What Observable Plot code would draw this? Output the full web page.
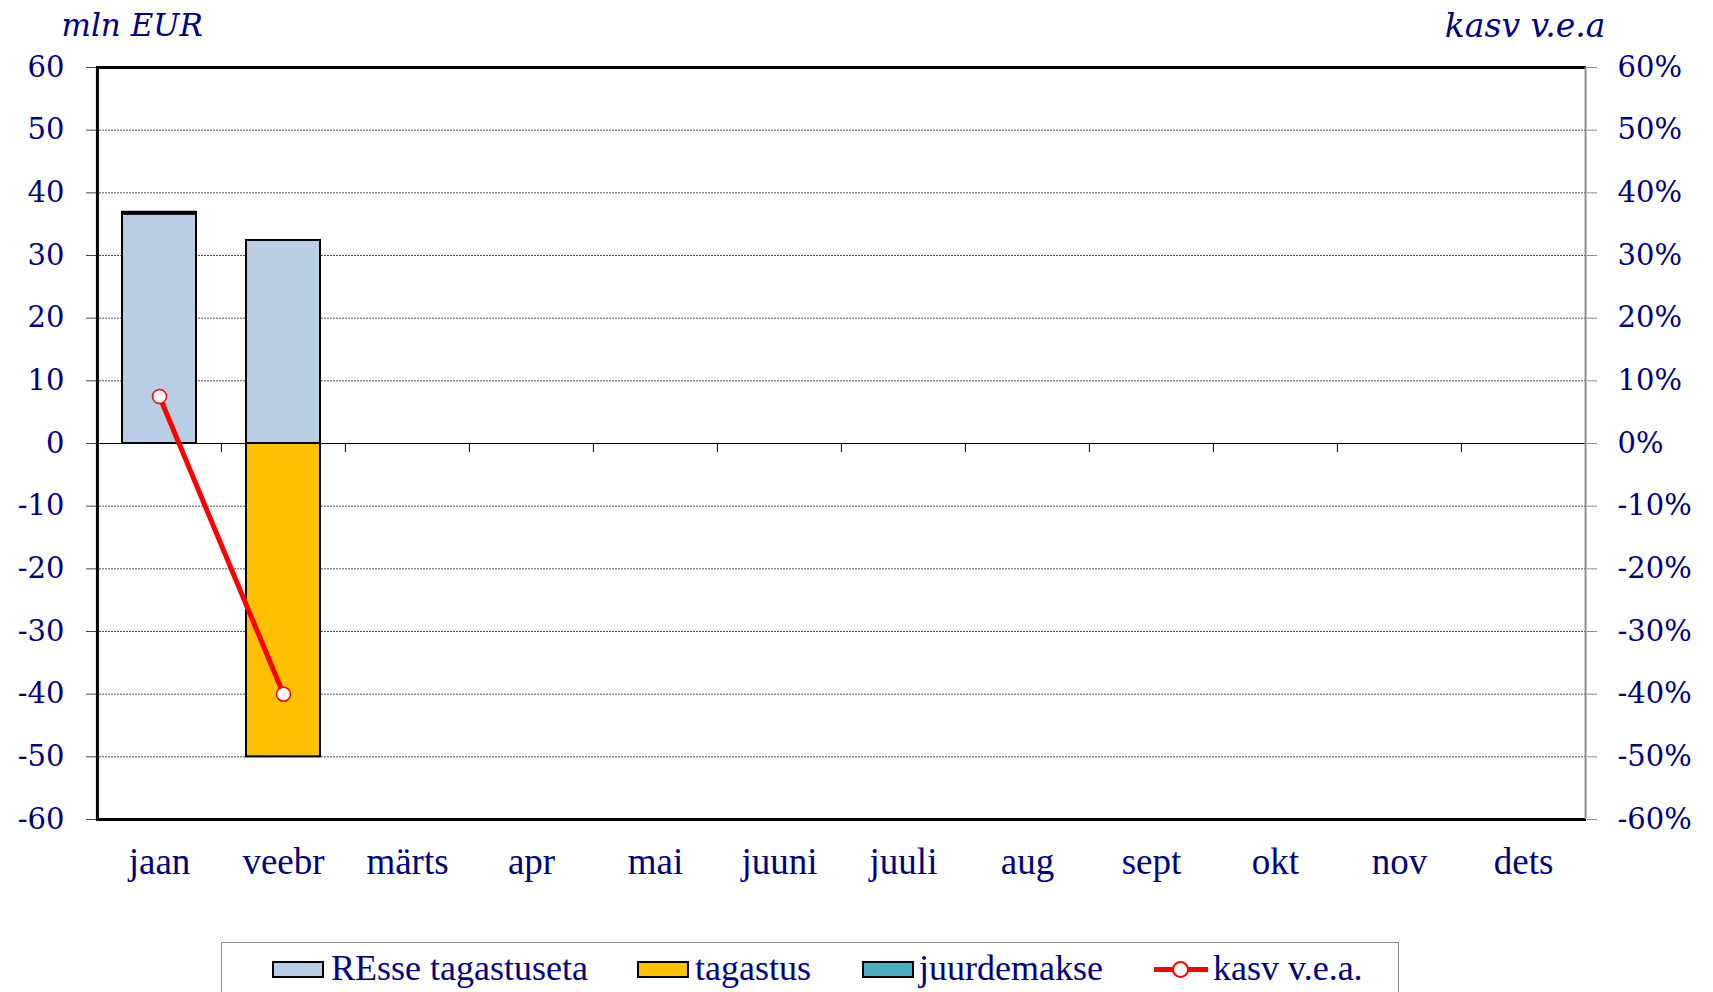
<!DOCTYPE html>
<html>
<head>
<meta charset="utf-8">
<script src="https://cdn.jsdelivr.net/npm/d3@7"></script>
<script src="https://cdn.jsdelivr.net/npm/@observablehq/plot@0.6"></script>
<style>
  body { margin: 0; background: #fff; }
  #wrap { position: relative; width: 1713px; height: 992px; overflow: hidden; background: #fff; }
  #legend { position: absolute; left: 221px; top: 942px; width: 1178px; height: 70px; border: 1.5px solid #8c8c8c; box-sizing: border-box; background: #fff; }
  .sw { position: absolute; top: 18px; width: 52px; height: 17px; border: 2.5px solid #000; box-sizing: border-box; }
  .lt { position: absolute; top: 7px; font-family: "Liberation Serif", serif; font-size: 36px; line-height: 36px; color: #000080; white-space: nowrap; }
  .ln { position: absolute; top: 24px; height: 5px; background: #ff0000; }
  .lc { position: absolute; top: 18px; width: 13px; height: 13px; border-radius: 50%; border: 2px solid #ff0000; background: #fff; }
</style>
</head>
<body>
<div id="wrap">
  <div id="chart"></div>
  <div id="legend"></div>
</div>
<script>
// ---- data ----
const months = ["jaan", "veebr", "märts", "apr", "mai", "juuni", "juuli", "aug", "sept", "okt", "nov", "dets"];
const barMonths = ["jaan", "veebr"];
const resse = [36.6, 32.4];
const tagastus = [0, -50];
const juurdemakse = [0.3, 0];
const kasv = [7.5, -40];
const seriesNames = ["REsse tagastuseta", "tagastus", "juurdemakse"];
const seriesColors = ["#b9cde5", "#ffc000", "#4bacc6"];
const lineName = "kasv v.e.a.";
const yTicks = [60, 50, 40, 30, 20, 10, 0, -10, -20, -30, -40, -50, -60];
const leftTitle = "mln EUR";
const rightTitle = "kasv v.e.a";

// ---- tables ----
const seriesValues = [resse, tagastus, juurdemakse];
const bars = [];
barMonths.forEach((m, i) => {
  seriesNames.forEach((s, k) => {
    const v = seriesValues[k][i];
    if (v !== 0) bars.push({month: m, series: s, value: v});
  });
});
const linePts = barMonths.map((m, i) => ({month: m, value: kasv[i]}));
const gridTicks = yTicks.filter(v => v !== 0 && Math.abs(v) !== 60);

// ---- layout ----
const W = 1713, H = 900, mL = 96, mR = 127, mT = 67, mB = 81;
const step = (W - mL - mR) / months.length;
const navy = "#000080";

const chart = Plot.plot({
  width: W, height: H,
  marginLeft: mL, marginRight: mR, marginTop: mT, marginBottom: mB,
  style: {background: "#fff", fontFamily: "DejaVu Serif", overflow: "visible"},
  x: {domain: months, paddingInner: 0.4, paddingOuter: 0.2},
  y: {domain: [-60, 60]},
  color: {domain: seriesNames, range: seriesColors},
  marks: [
    Plot.gridY(gridTicks, {stroke: "#333", strokeOpacity: 0.85, strokeDasharray: "2,1", strokeWidth: 1}),
    Plot.ruleY([0], {stroke: "#000", strokeWidth: 1}),
    Plot.ruleX(months.slice(1), {y1: 0, y2: -1.45, dx: -step / 2, stroke: "#000", strokeWidth: 1}),
    Plot.barY(bars, {x: "month", y: "value", fill: "series", stroke: "#000", strokeWidth: 2}),
    Plot.ruleY([60, -60], {stroke: "#000", strokeWidth: 3}),
    Plot.ruleX([months[0]], {dx: -step / 2, stroke: "#000", strokeWidth: 3}),
    Plot.ruleX([months[months.length - 1]], {dx: step / 2, stroke: "#8c8c8c", strokeWidth: 2}),
    Plot.line(linePts, {x: "month", y: "value", stroke: "#ff0000", strokeWidth: 5}),
    Plot.dot(linePts, {x: "month", y: "value", r: 7, fill: "#fff", stroke: "#ff0000", strokeWidth: 1.5}),
    Plot.axisY(yTicks, {anchor: "left", tickSize: 10, tickPadding: 22, stroke: "#444", color: navy,
      fontSize: 29, fontFamily: "DejaVu Serif", tickFormat: d => String(d), label: null}),
    Plot.axisY(yTicks, {anchor: "right", tickSize: 10, tickPadding: 21, stroke: "#8c8c8c", color: navy,
      fontSize: 29, fontFamily: "DejaVu Serif", tickFormat: d => String(d) + "%", label: null}),
    Plot.axisX({anchor: "bottom", tickSize: 0, tickPadding: 28, color: navy,
      fontSize: 37, fontFamily: "Liberation Serif", label: null}),
    Plot.text([leftTitle], {frameAnchor: "top-left", dx: -35, dy: -32, lineAnchor: "bottom", textAnchor: "start",
      fill: navy, fontSize: 31, fontStyle: "italic", fontFamily: "DejaVu Serif"}),
    Plot.text([rightTitle], {frameAnchor: "top-right", dx: 19, dy: -31, lineAnchor: "bottom", textAnchor: "end",
      fill: navy, fontSize: 33, fontStyle: "italic", fontFamily: "DejaVu Serif"})
  ]
});
document.getElementById("chart").appendChild(chart);

// ---- legend ----
const lg = document.getElementById("legend");
const swX = [50, 415, 640];
const txX = [109, 473, 697];
seriesNames.forEach((s, k) => {
  const sw = document.createElement("div");
  sw.className = "sw"; sw.style.left = swX[k] + "px"; sw.style.background = seriesColors[k];
  lg.appendChild(sw);
  const t = document.createElement("div");
  t.className = "lt"; t.style.left = txX[k] + "px"; t.textContent = s;
  lg.appendChild(t);
});
const ln = document.createElement("div");
ln.className = "ln"; ln.style.left = "932px"; ln.style.width = "54px";
lg.appendChild(ln);
const lc = document.createElement("div");
lc.className = "lc"; lc.style.left = "950px";
lg.appendChild(lc);
const lt = document.createElement("div");
lt.className = "lt"; lt.style.left = "991px"; lt.textContent = lineName;
lg.appendChild(lt);
</script>
</body>
</html>
